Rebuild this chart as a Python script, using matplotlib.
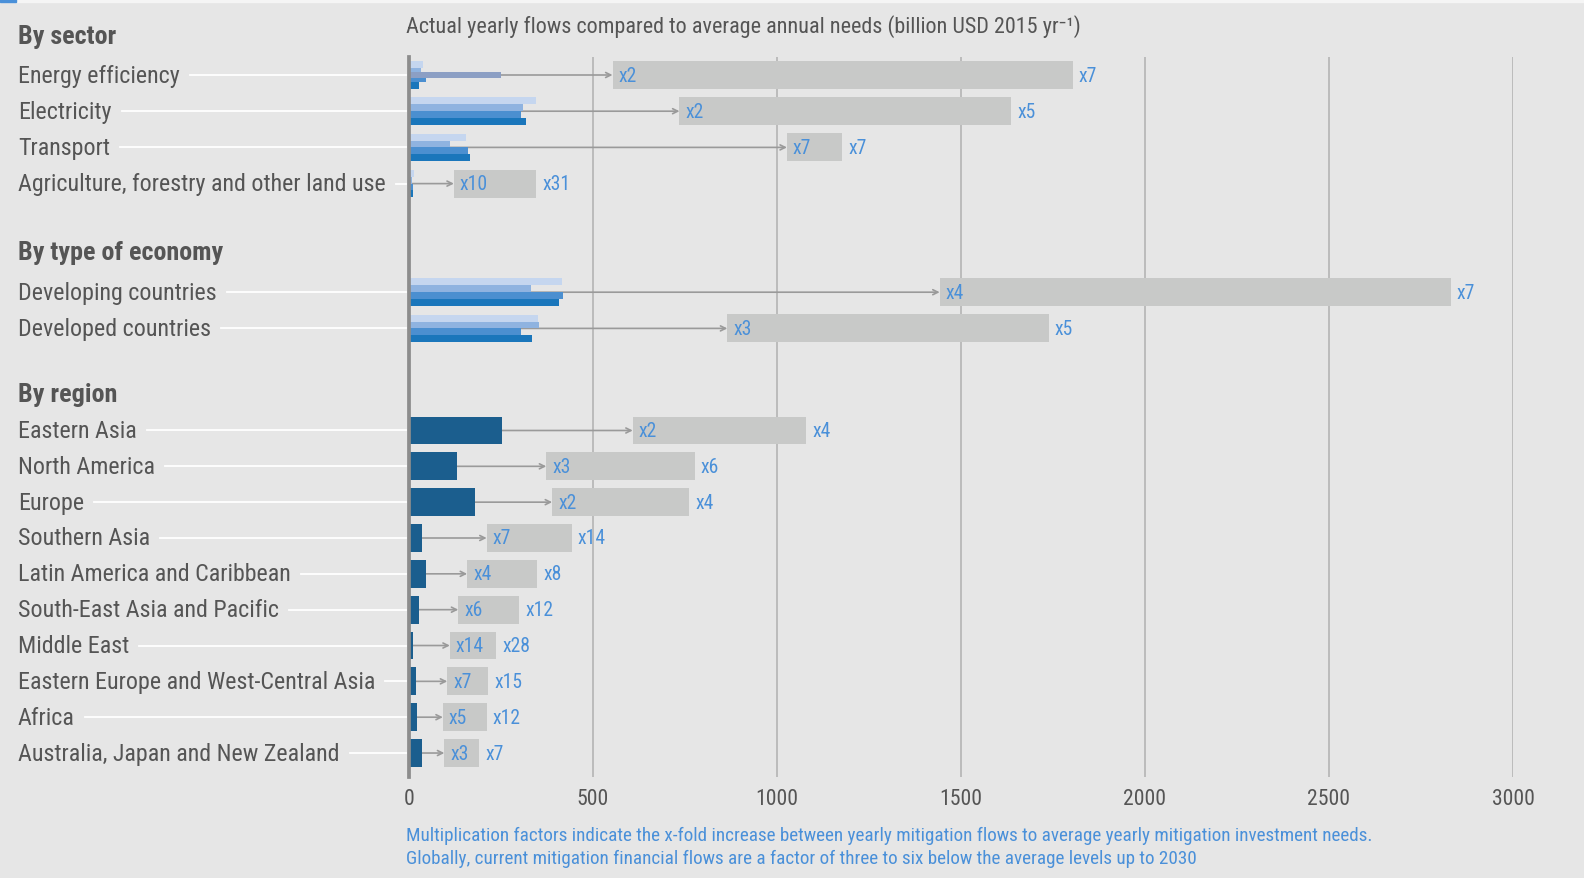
import matplotlib
matplotlib.use("Agg")
import matplotlib.pyplot as plt
import matplotlib.font_manager as fm
import matplotlib.transforms as mtransforms
from matplotlib.lines import Line2D
from matplotlib.patches import Rectangle

names = {f.name for f in fm.fontManager.ttflist}
main_font = "DejaVu Sans"
for cand in ["Roboto Condensed", "Open Sans Condensed", "Liberation Sans Narrow", "Liberation Sans"]:
    if cand in names:
        main_font = cand
        break
plt.rcParams['font.family'] = [main_font, 'DejaVu Sans']

# --- data (billion USD 2015 per year) ---
sectors = ["Energy efficiency", "Electricity", "Transport",
           "Agriculture, forestry and other land use"]
# four flow bars per sector, light -> dark
sector_flows = [
    [37, 32, 45, 26],
    [346, 311, 303, 319],
    [154, 111, 161, 165],
    [14, 8, 10, 12],
]
ee_extra_flow = 249
sector_need_lo = [553, 735, 1027, 122]
sector_need_hi = [1803, 1636, 1177, 346]
sector_fac_lo = ["x2", "x2", "x7", "x10"]
sector_fac_hi = ["x7", "x5", "x7", "x31"]

economies = ["Developing countries", "Developed countries"]
economy_flows = [
    [415, 331, 419, 408],
    [350, 353, 303, 334],
]
economy_need_lo = [1442, 865]
economy_need_hi = [2831, 1738]
economy_fac_lo = ["x4", "x3"]
economy_fac_hi = ["x7", "x5"]

regions = ["Eastern Asia", "North America", "Europe", "Southern Asia",
           "Latin America and Caribbean", "South-East Asia and Pacific",
           "Middle East", "Eastern Europe and West-Central Asia", "Africa",
           "Australia, Japan and New Zealand"]
region_flows = [254, 130, 180, 34, 45, 26, 10, 18, 23, 34]
region_need_lo = [608, 373, 389, 211, 158, 134, 111, 104, 92, 96]
region_need_hi = [1080, 776, 761, 442, 349, 299, 237, 215, 211, 191]
region_fac_lo = ["x2", "x3", "x2", "x7", "x4", "x6", "x14", "x7", "x5", "x3"]
region_fac_hi = ["x4", "x6", "x4", "x14", "x8", "x12", "x28", "x15", "x12", "x7"]

ticks = [0, 500, 1000, 1500, 2000, 2500, 3000]

title = "Actual yearly flows compared to average annual needs (billion USD 2015 yr\u207b\u00b9)"
note1 = ("Multiplication factors indicate the x-fold increase between yearly mitigation "
         "flows to average yearly mitigation investment needs.")
note2 = ("Globally, current mitigation financial flows are a factor of three to six "
         "below the average levels up to 2030")

# --- style ---
bg = "#e6e6e6"
flow_cols = ["#c5d6ef", "#8fb3e0", "#4b8fd0", "#1a76bb"]
region_col = "#1b5e8e"
box_col = "#c8c9c8"
fac_col = "#4a90d9"
txt_col = "#555555"

W, H = 1584, 879
fig = plt.figure(figsize=(W / 100, H / 100), dpi=100, facecolor=bg)
r = fig.canvas.get_renderer()


def fit_size(s, width_px, weight="normal"):
    # font size so that string s is width_px wide
    t = fig.text(0, 0, s, fontsize=20, fontweight=weight)
    w = t.get_window_extent(r).width
    t.remove()
    return 20 * width_px / w


fs_label = fit_size("Agriculture, forestry and other land use", 367)
fs_head = fit_size("By type of economy", 205, "bold")
fs_fac = fit_size("x10", 28)
fs_tick = fit_size("3000", 43)
fs_title = fit_size(title, 672)
fs_note = fit_size(note1, 965)

ax_left, ax_right, ax_top, ax_bot = 409, 1513, 58, 778
ax = fig.add_axes([ax_left / W, 1 - ax_bot / H, (ax_right - ax_left) / W, (ax_bot - ax_top) / H])
ax.set_facecolor(bg)

fig.patches.append(Rectangle((0, 1 - 3 / H), 1, 3 / H, transform=fig.transFigure,
                             color="#f5f5f5", zorder=0))
fig.patches.append(Rectangle((0, 1 - 3 / H), 16 / W, 3 / H, transform=fig.transFigure,
                             color="#4a90d9", zorder=1))

# row positions (row units, top = 0)
sec_y = [0, 1, 2, 3]
eco_y = [6, 7]
reg_y = [9.82 + i * 0.99 for i in range(len(regions))]
header_y = [(-1.08, "By sector"), (4.9, "By type of economy"), (8.82, "By region")]

box_h = 0.77
sub_h = 0.19
px_per_unit = (ax_right - ax_left) / 3000.0
pad = 6 / px_per_unit


def draw_boxes(ys, lo, hi, flo, fhi):
    for y, a, b, f1, f2 in zip(ys, lo, hi, flo, fhi):
        ax.barh(y, b - a, left=a, height=box_h, color=box_col, zorder=2)
        ax.annotate("", xy=(a, y), xytext=(0, y), zorder=1,
                    arrowprops=dict(arrowstyle="->", color="#9a9a9a", lw=1.2,
                                    shrinkA=0, shrinkB=0, mutation_scale=9))
        ax.text(a + pad, y, f1, color=fac_col, fontsize=fs_fac, va="center", ha="left", zorder=4)
        ax.text(b + pad, y, f2, color=fac_col, fontsize=fs_fac, va="center", ha="left", zorder=4)


def draw_groups(ys, flows):
    for y, vals in zip(ys, flows):
        for k, v in enumerate(vals):
            ax.barh(y + (k - 1.5) * sub_h, v, height=sub_h, color=flow_cols[k], zorder=3)


draw_groups(sec_y, sector_flows)
ax.barh(sec_y[0], ee_extra_flow, height=0.17, color="#8c9fc4", zorder=3.5)
draw_boxes(sec_y, sector_need_lo, sector_need_hi, sector_fac_lo, sector_fac_hi)
draw_groups(eco_y, economy_flows)
draw_boxes(eco_y, economy_need_lo, economy_need_hi, economy_fac_lo, economy_fac_hi)
ax.barh(reg_y, region_flows, height=box_h, color=region_col, zorder=3)
draw_boxes(reg_y, region_need_lo, region_need_hi, region_fac_lo, region_fac_hi)

ax.set_xlim(0, 3000)
ax.set_ylim((ax_bot - 76) / 36.2, (ax_top - 76) / 36.2)
ax.set_xticks(ticks)
ax.set_xticklabels([str(t) for t in ticks], color=txt_col, fontsize=fs_tick)
ax.tick_params(axis="x", length=0, pad=8)
ax.set_yticks([])
for t in ticks[1:]:
    ax.axvline(t, color="#b4b4b4", lw=1.2, zorder=0)
for s in ["top", "right", "bottom"]:
    ax.spines[s].set_visible(False)
ax.spines["left"].set_color("#8c8c8c")
ax.spines["left"].set_linewidth(2.7)
ax.spines["left"].set_zorder(5)

# labels on the left
trans = mtransforms.blended_transform_factory(fig.transFigure, ax.transData)
lab_x = 18 / W
label_texts = []
for y, name in zip(sec_y + eco_y + reg_y, sectors + economies + regions):
    t = fig.text(lab_x, y, name, transform=trans, fontsize=fs_label, color=txt_col, va="center")
    label_texts.append((t, y))
for y, name in header_y:
    fig.text(lab_x, y, name, transform=trans, fontsize=fs_head, color=txt_col,
             va="center", fontweight="bold")

fig.canvas.draw()
for t, y in label_texts:
    bb = t.get_window_extent(r)
    x0 = (bb.x1 + 10) / W
    fig.lines.append(Line2D([x0, (ax_left - 3) / W], [y, y], transform=trans,
                            color="white", lw=1.3, zorder=0))

fig.text(406 / W, 1 - 27 / H, title, fontsize=fs_title, color=txt_col, va="center", ha="left")
fig.text(406 / W, 1 - 836 / H, note1, fontsize=fs_note, color=fac_col, va="center", ha="left")
fig.text(406 / W, 1 - 859 / H, note2, fontsize=fs_note, color=fac_col, va="center", ha="left")

fig.savefig("out.png", dpi=100, facecolor=bg)
